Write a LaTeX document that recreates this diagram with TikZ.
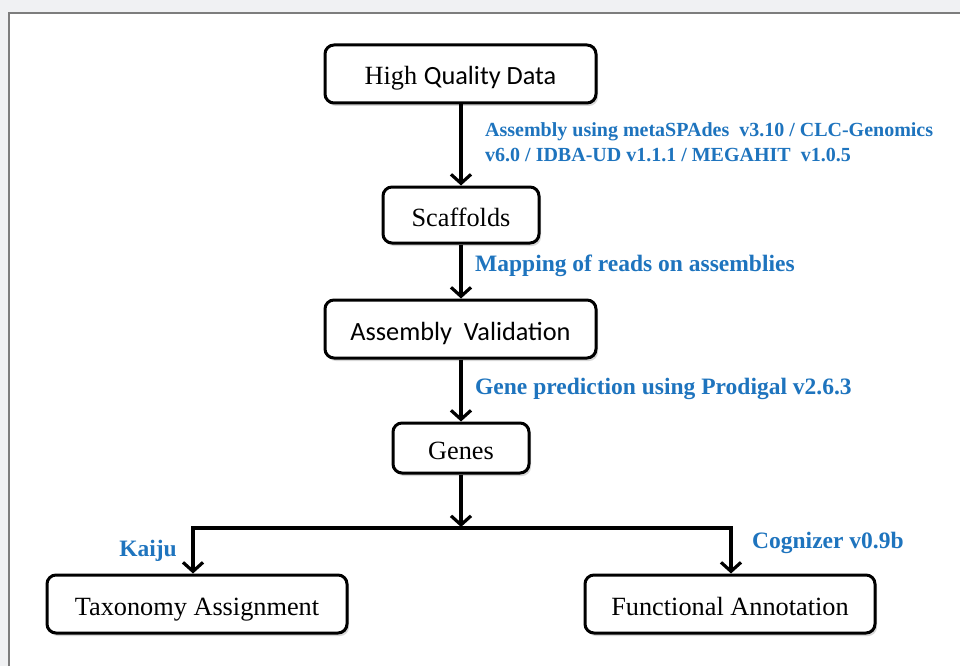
\documentclass[tikz,border=0pt]{standalone}
\usepackage{fontspec}
\setmainfont{Liberation Serif}
\newfontfamily\calfont{Carlito}
\usetikzlibrary{arrows.meta,shadows}
\definecolor{lblblue}{RGB}{30,116,190}
\definecolor{bggray}{RGB}{240,241,243}
\definecolor{framegray}{RGB}{125,125,125}
\begin{document}
\begin{tikzpicture}[x=1pt,y=-1pt,
  box/.style={draw=black, line width=3pt, rounded corners=9pt,
    fill=white,
    drop shadow={shadow xshift=2pt,shadow yshift=-3pt,opacity=0.3},
    inner sep=0pt, text height=22pt, text depth=0pt,
    font=\rmfamily\fontsize{26.3}{30}\selectfont},
  lbl/.style={text=lblblue, inner sep=0pt, font=\rmfamily\bfseries\fontsize{23.5}{27}\selectfont},
  lblsmall/.style={lbl, font=\rmfamily\bfseries\fontsize{20}{24}\selectfont},
  conn/.style={line width=3.2pt, -{Straight Barb[length=9pt,width=20pt]}}]
\useasboundingbox (0,0) rectangle (960,666);
\fill[bggray] (0,0) rectangle (960,666);
\fill[white] (8,12.5) rectangle (960,666);
\draw[framegray, line width=2pt] (9,666) -- (9,13.5) -- (960,13.5);

\node[box, minimum width=271pt, minimum height=58pt] (hq) at (460.5,74) {High {\calfont Quality Data}};
\node[box, minimum width=156pt, minimum height=56pt] (sc) at (461,215) {Scaffolds};
\node[box, minimum width=271pt, minimum height=58pt] (av) at (460.5,329) {\calfont Assembly\ \ Validation};
\node[box, minimum width=136pt, minimum height=50pt] (gn) at (461,448) {Genes};
\node[box, minimum width=300pt, minimum height=58pt] (tx) at (197,604) {Taxonomy Assignment};
\node[box, minimum width=290pt, minimum height=58pt] (fa) at (730,604) {Functional Annotation};

\coordinate (jn) at (461,528);
\coordinate (jl) at (193,528);
\coordinate (jr) at (731,528);

\draw[conn] (hq.south -| sc.north) -- (sc.north);
\draw[conn] (sc.south) -- (sc.south |- av.north);
\draw[conn] (av.south -| gn.north) -- (gn.north);
\draw[conn, shorten >=1pt] (gn.south) -- (jn);
\draw[conn] (jr) -| (tx.north -| jl);
\draw[conn] (jl) -| (fa.north -| jr);

\node[lblsmall, anchor=west] (a1) at (485,132) {Assembly using metaSPAdes\ \ v3.10 / CLC-Genomics};
\node[lblsmall, anchor=west] (a2) at (485,155) {v6.0 / IDBA-UD v1.1.1 / MEGAHIT\ \ v1.0.5};
\node[lbl, anchor=west] (mp) at (475,266) {Mapping of reads on assemblies};
\node[lbl, anchor=west] (gp) at (475,389) {Gene prediction using Prodigal v2.6.3};
\node[lbl] (kj) at (148,551) {Kaiju};
\node[lbl, anchor=west] (cg) at (752,543) {Cognizer v0.9b};
\end{tikzpicture}
\end{document}
